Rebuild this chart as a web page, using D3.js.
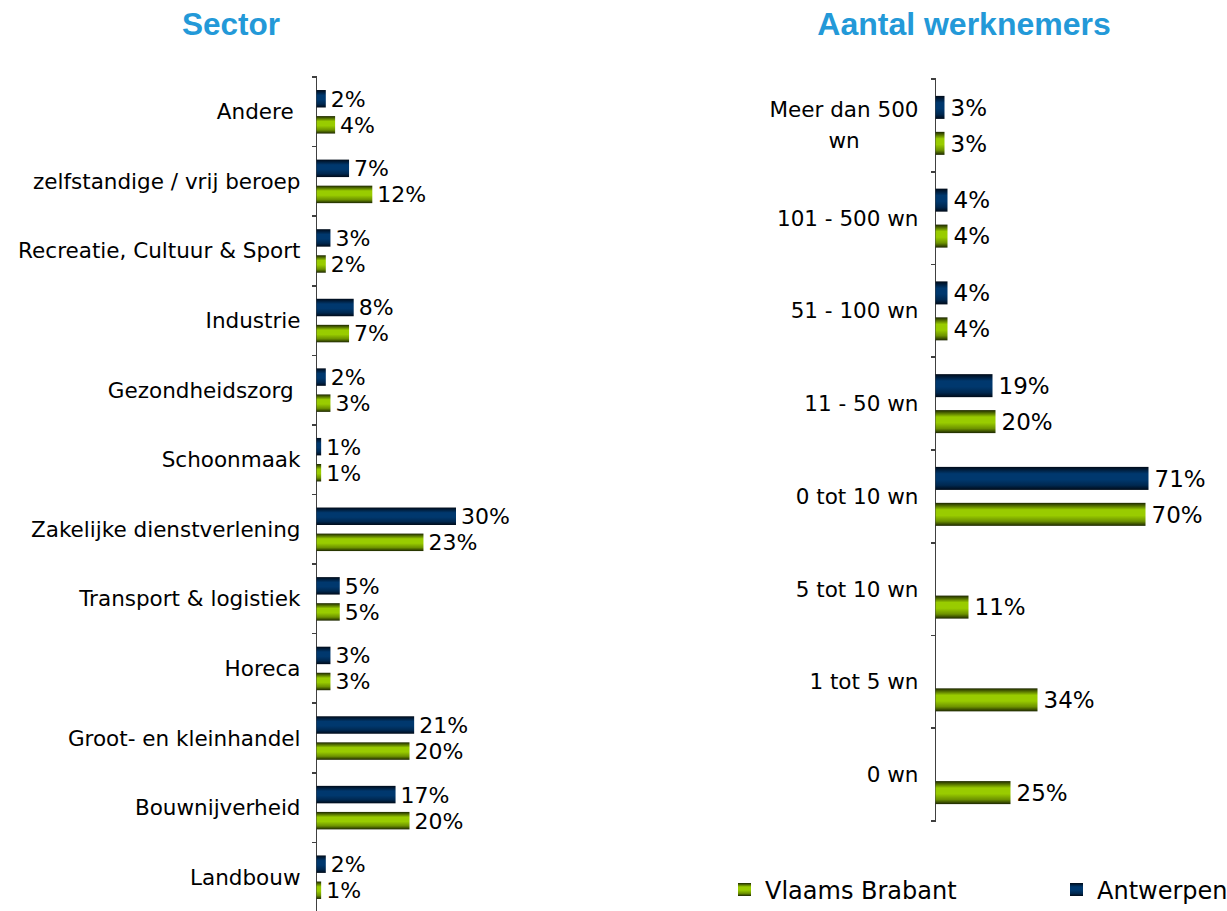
<!DOCTYPE html>
<html>
<head>
<meta charset="utf-8">
<title>Sector / Aantal werknemers</title>
<style>
  body { margin: 0; background: #ffffff; }
  text { font-family: "DejaVu Sans", sans-serif; fill: #000; }
  .title { font-family: "Liberation Sans", Arial, sans-serif; font-weight: bold; fill: #2399d8; }
  .axisLine { stroke: #404040; stroke-width: 1.6px; fill: none; shape-rendering: crispEdges; }
  .catlbl { white-space: pre; }
</style>
</head>
<body>
<div id="chart"></div>
<script src="https://cdn.jsdelivr.net/npm/d3@7"></script>
<script>

var series         = ["Antwerpen", "Vlaams Brabant"];

var sectorCats     = ["Andere ", "zelfstandige / vrij beroep", "Recreatie, Cultuur & Sport", "Industrie",
                      "Gezondheidszorg ", "Schoonmaak", "Zakelijke dienstverlening", "Transport & logistiek",
                      "Horeca", "Groot- en kleinhandel", "Bouwnijverheid", "Landbouw"];
var sectorAntw     = [2, 7, 3, 8, 2, 1, 30, 5, 3, 21, 17, 2];
var sectorVlBr     = [4, 12, 2, 7, 3, 1, 23, 5, 3, 20, 20, 1];

var werkCats       = ["Meer dan 500 wn", "101 - 500 wn", "51 - 100 wn", "11 - 50 wn",
                      "0 tot 10 wn", "5 tot 10 wn", "1 tot 5 wn", "0 wn"];
var werkAntw       = [3, 4, 4, 19, 71, null, null, null];
var werkVlBr       = [3, 4, 4, 20, 70, 11, 34, 25];

var W = 1227, H = 911;

var svg = d3.select("#chart").append("svg")
            .attr("width", W)
            .attr("height", H);

// gradients (dark edges, light middle)
var defs = svg.append("defs");
function grad(id, edge, mid) {
  var g = defs.append("linearGradient").attr("id", id)
              .attr("x1", 0).attr("y1", 0).attr("x2", 0).attr("y2", 1);
  [[0, edge], [0.3, mid], [0.55, mid], [0.8, d3.interpolateRgb(mid, edge)(0.35)], [1, edge]]
    .forEach(function(s){ g.append("stop").attr("offset", s[0]).attr("stop-color", s[1]); });
}
grad("gBlue", "#000a18", "#00386e");
grad("gGreen", "#1c2600", "#99cc00");
var fills = { "Antwerpen": "url(#gBlue)", "Vlaams Brabant": "url(#gGreen)" };

function drawPanel(o) {
  var data = o.cats.map(function(c, i){
    return { cat: c, vals: [ {s: series[0], v: o.antw[i]}, {s: series[1], v: o.vlbr[i]} ] };
  });

  var y = d3.scaleBand().domain(o.cats).range([o.top, o.bottom]);
  var yi = d3.scaleBand().domain(series).range([0, y.bandwidth()])
             .paddingInner(o.padIn).paddingOuter(o.padOut);
  var x = d3.scaleLinear().domain([0, 100]).range([o.x0, o.x0 + o.pxPerPct * 100]);

  var g = svg.append("g");

  // axis line + ticks
  g.append("line").attr("class", "axisLine")
    .attr("x1", o.x0).attr("x2", o.x0).attr("y1", o.top).attr("y2", o.axisEnd);
  var ticks = o.cats.map(function(c){ return y(c); }).concat([o.bottom]);
  g.selectAll(".tk").data(ticks).enter().append("line")
    .attr("class", "axisLine")
    .attr("x1", o.x0 - 5).attr("x2", o.x0)
    .attr("y1", function(d){ return d; }).attr("y2", function(d){ return d; });

  // category labels
  var lbl = g.selectAll(".catlbl").data(o.cats).enter().append("text")
    .attr("class", "catlbl")
    .attr("text-anchor", "middle")
    .style("font-size", o.fs + "px");
  lbl.each(function(c){
    var t = d3.select(this);
    var lines = o.wrap && o.wrap[c] ? o.wrap[c] : [c];
    var lh = o.fs * 1.45;
    var cy = y(c) + y.bandwidth() / 2 - (lines.length - 1) * lh / 2 + o.fs * 0.35;
    lines.forEach(function(l, k){
      t.append("tspan").attr("y", cy + k * lh).text(l);
    });
    // right-align the block, centre lines inside it
    var wmax = d3.max(t.selectAll("tspan").nodes(), function(n){ return n.getComputedTextLength(); });
    t.selectAll("tspan").attr("x", o.x0 - o.lblGap - wmax / 2);
  });

  // bars
  var grp = g.selectAll(".cat").data(data).enter().append("g")
    .attr("transform", function(d){ return "translate(0," + y(d.cat) + ")"; });
  var bars = grp.selectAll("g.bar").data(function(d){ return d.vals.filter(function(v){ return v.v != null; }); })
    .enter().append("g").attr("class", "bar");
  bars.append("rect")
    .attr("x", x(0))
    .attr("y", function(d){ return yi(d.s); })
    .attr("width", function(d){ return x(d.v) - x(0); })
    .attr("height", yi.bandwidth())
    .attr("fill", function(d){ return fills[d.s]; });
  bars.append("text")
    .attr("x", function(d){ return x(d.v) + o.valGap; })
    .attr("y", function(d){ return yi(d.s) + yi.bandwidth() / 2 + o.vfs * 0.36; })
    .style("font-size", o.vfs + "px")
    .text(function(d){ return d.v + "%"; });
}

drawPanel({ cats: sectorCats, antw: sectorAntw, vlbr: sectorVlBr,
            top: 77, bottom: 912, axisEnd: 911, x0: 316.5, pxPerPct: 4.65,
            padIn: 0.33, padOut: 0.5, fs: 21.5, vfs: 22, lblGap: 16, valGap: 5 });

drawPanel({ cats: werkCats, antw: werkAntw, vlbr: werkVlBr,
            top: 79, bottom: 821, axisEnd: 821, x0: 935.5, pxPerPct: 3.0,
            padIn: 0.36, padOut: 0.47, fs: 21.5, vfs: 23, lblGap: 17, valGap: 6,
            wrap: { "Meer dan 500 wn": ["Meer dan 500", "wn"] } });

// titles
svg.append("text").attr("class", "title").attr("x", 231).attr("y", 35)
   .attr("text-anchor", "middle").style("font-size", "31.5px").text("Sector");
svg.append("text").attr("class", "title").attr("x", 964).attr("y", 35)
   .attr("text-anchor", "middle").style("font-size", "32px").text("Aantal werknemers");

// legend
var legendItems = [ {s: "Vlaams Brabant", x: 738}, {s: "Antwerpen", x: 1070} ];
var lg = svg.selectAll(".lg").data(legendItems).enter().append("g")
            .attr("transform", function(d){ return "translate(" + d.x + ",883)"; });
lg.append("rect").attr("width", 13).attr("height", 13)
  .attr("fill", function(d){ return fills[d.s]; });
lg.append("text").attr("x", 27).attr("y", 16).style("font-size", "24px")
  .text(function(d){ return d.s; });

</script>
</body>
</html>
